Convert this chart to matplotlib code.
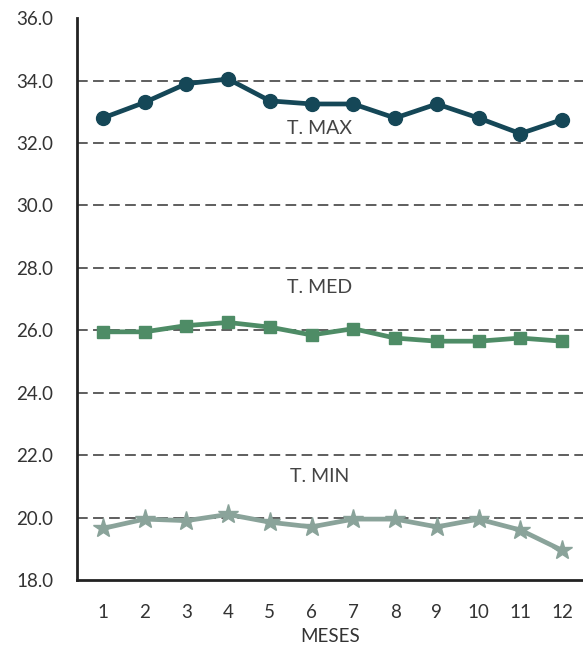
import matplotlib
matplotlib.use('Agg')
import matplotlib.pyplot as plt

meses = [1, 2, 3, 4, 5, 6, 7, 8, 9, 10, 11, 12]
t_max = [32.8, 33.3, 33.9, 34.05, 33.35, 33.25, 33.25, 32.8, 33.25, 32.8, 32.3, 32.75]
t_med = [25.95, 25.95, 26.15, 26.25, 26.1, 25.85, 26.05, 25.75, 25.65, 25.65, 25.75, 25.65]
t_min = [19.65, 19.95, 19.9, 20.1, 19.85, 19.7, 19.95, 19.95, 19.7, 19.95, 19.6, 18.95]
y_ticks = [18, 20, 22, 24, 26, 28, 30, 32, 34, 36]

plt.rcParams['font.family'] = ['Lato', 'DejaVu Sans']

fig = plt.figure(figsize=(5.83, 6.48), dpi=100)
ax = fig.add_axes([0.132, 0.105, 0.868, 0.867])

for y in y_ticks[1:-1]:
    ax.axhline(y, color='#333333', linestyle=(0, (7, 3.5)), linewidth=1.1, zorder=1)

ax.plot(meses, t_max, '-o', color='#154757', linewidth=3.4, markersize=10, zorder=3)
ax.plot(meses, t_med, '-s', color='#4e8c66', linewidth=3.4, markersize=9, zorder=3)
ax.plot(meses, t_min, '-*', color='#8aa39a', linewidth=3.4, markersize=15, zorder=3)

ax.text(6.2, 32.45, 'T. MAX', fontsize=14, color='#444444', ha='center', va='center')
ax.text(6.2, 27.38, 'T. MED', fontsize=14, color='#444444', ha='center', va='center')
ax.text(6.2, 21.3, 'T. MIN', fontsize=14, color='#444444', ha='center', va='center')

ax.set_xlim(0.38, 12.5)
ax.set_ylim(18, 36)
ax.set_yticks(y_ticks)
ax.set_yticklabels(['%.1f' % v for v in y_ticks], fontsize=13.5, color='#333333')
ax.set_xticks(meses)
ax.set_xticklabels([str(m) for m in meses], fontsize=13.5, color='#333333')
ax.tick_params(axis='both', length=0)
ax.tick_params(axis='x', pad=17)
ax.tick_params(axis='y', pad=17)
ax.set_xlabel('MESES', fontsize=13.5, color='#333333', labelpad=5)

ax.spines['top'].set_visible(False)
ax.spines['right'].set_visible(False)
ax.spines['left'].set_linewidth(2)
ax.spines['bottom'].set_linewidth(2)
ax.spines['left'].set_color('#222222')
ax.spines['bottom'].set_color('#222222')

fig.savefig('out.png', dpi=100)
